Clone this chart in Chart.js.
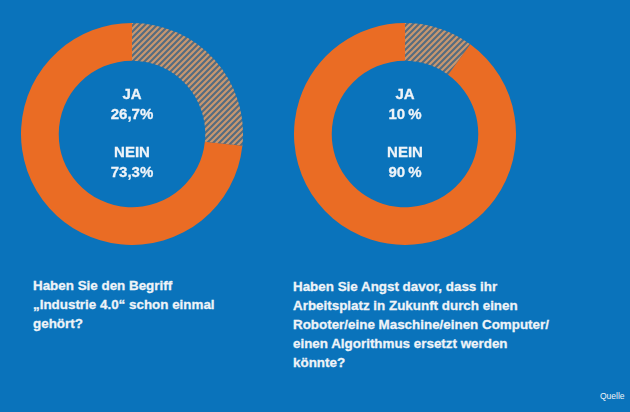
<!DOCTYPE html>
<html>
<head>
<meta charset="utf-8">
<script src="https://cdn.jsdelivr.net/npm/chart.js@4"></script>
<style>
  html, body { margin:0; padding:0; }
  body { width:630px; height:412px; background:#0a73bb; position:relative; overflow:hidden;
         font-family: Arial, "Liberation Sans", Helvetica, sans-serif; color:#eef3f8; }
  .chart { position:absolute; width:222px; height:222px; }
  .center { position:absolute; width:160px; text-align:center; font-weight:bold; font-size:15px; line-height:20px; -webkit-text-stroke:0.3px #eef3f8; }
  .q { position:absolute; font-weight:bold; font-size:13.4px; line-height:19px; white-space:nowrap; -webkit-text-stroke:0.3px #eef3f8; }
  .src { position:absolute; font-size:8.5px; }
</style>
</head>
<body>
<div class="chart" style="left:21px; top:23px;"><canvas id="c1"></canvas></div>
<div class="chart" style="left:294px; top:23px;"><canvas id="c2"></canvas></div>

<div class="center" id="t1" style="left:52px; top:84px;"></div>
<div class="center" id="t2" style="left:325px; top:84px;"></div>

<div class="q" id="q1" style="left:33px; top:276px;"></div>
<div class="q" id="q2" style="left:293px; top:277px;"></div>
<div class="src" style="left:600px; top:391px;">Quelle</div>

<script>
const categories = ['JA', 'NEIN'];
const valuesLeft = [26.7, 73.3];
const valuesRight = [10, 90];
const labelsLeft = ['26,7%', '73,3%'];
const labelsRight = ['10\u2009%', '90\u2009%'];
const questionLeft = ['Haben Sie den Begriff', '\u201EIndustrie 4.0\u201C schon einmal', 'geh\u00F6rt?'];
const questionRight = ['Haben Sie Angst davor, dass ihr', 'Arbeitsplatz in Zukunft durch einen', 'Roboter/eine Maschine/einen Computer/', 'einen Algorithmus ersetzt werden', 'k\u00F6nnte?'];

function makePattern() {
  const s = 6;
  const p = document.createElement('canvas');
  p.width = s; p.height = s;
  const g = p.getContext('2d');
  g.fillStyle = '#c8976f';
  g.fillRect(0, 0, s, s);
  g.strokeStyle = '#546c80';
  g.lineWidth = 2.1;
  g.beginPath();
  g.moveTo(-1, s + 1); g.lineTo(s + 1, -1);
  g.moveTo(-2, 2); g.lineTo(2, -2);
  g.moveTo(s - 2, s + 2); g.lineTo(s + 2, s - 2);
  g.stroke();
  return document.getElementById('c1').getContext('2d').createPattern(p, 'repeat');
}
const hatch = makePattern();
const orange = '#ea6c24';

function makeChart(id, values) {
  new Chart(document.getElementById(id), {
    type: 'doughnut',
    data: {
      labels: categories,
      datasets: [{ data: values, backgroundColor: [hatch, orange], borderWidth: 0, hoverOffset: 0 }]
    },
    options: {
      responsive: true,
      maintainAspectRatio: false,
      animation: false,
      cutout: '66%',
      rotation: 0,
      layout: { padding: 0 },
      events: [],
      plugins: { legend: { display: false }, tooltip: { enabled: false } }
    }
  });
}
makeChart('c1', valuesLeft);
makeChart('c2', valuesRight);

function centerHTML(labels) {
  return categories[0] + '<br>' + labels[0] + '<div style="height:18px"></div>' + categories[1] + '<br>' + labels[1];
}
document.getElementById('t1').innerHTML = centerHTML(labelsLeft);
document.getElementById('t2').innerHTML = centerHTML(labelsRight);
document.getElementById('q1').innerHTML = questionLeft.join('<br>');
document.getElementById('q2').innerHTML = questionRight.join('<br>');
</script>
</body>
</html>
